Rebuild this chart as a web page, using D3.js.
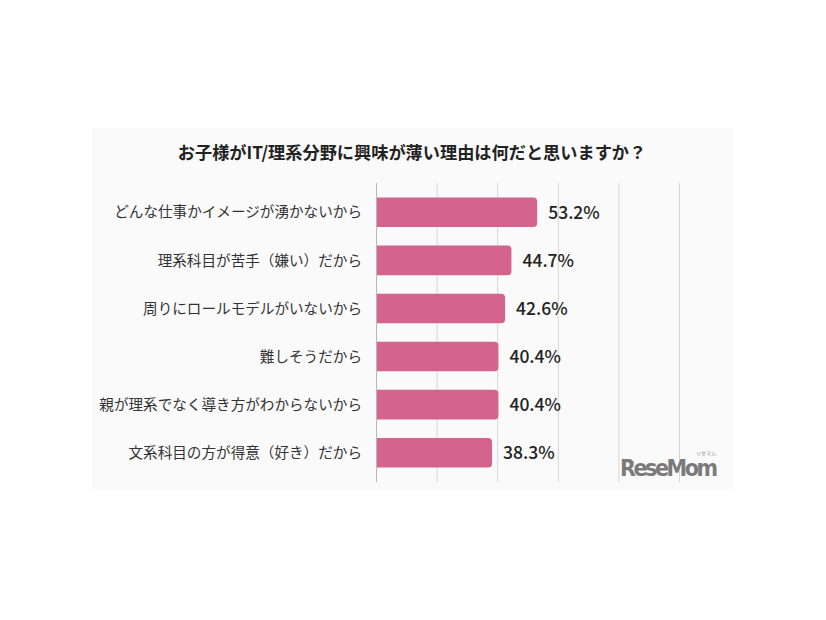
<!DOCTYPE html>
<html><head><meta charset="utf-8">
<script src="https://cdn.jsdelivr.net/npm/d3@7"></script>
<style>html,body{margin:0;padding:0;background:#fff;}svg{display:block;}</style>
</head><body>
<svg id="c" width="826" height="620"></svg>
<script>
const title = "お子様がIT/理系分野に興味が薄い理由は何だと思いますか？";
const categories = [
  "どんな仕事かイメージが湧かないから",
  "理系科目が苦手（嫌い）だから",
  "周りにロールモデルがいないから",
  "難しそうだから",
  "親が理系でなく導き方がわからないから",
  "文系科目の方が得意（好き）だから"
];
const values = [53.2, 44.7, 42.6, 40.4, 40.4, 38.3];
const gridTicks = [0, 20, 40, 60, 80, 100];

const svg = d3.select("#c");
const JP = "'Noto Sans CJK JP','Noto Sans',sans-serif";

// panel background
svg.append("rect").attr("x", 92).attr("y", 128).attr("width", 641).attr("height", 362).attr("fill", "#fafafa");

const x = d3.scaleLinear().domain([0, 100]).range([376, 679]);
const y = d3.scaleBand().domain(categories).range([183, 482]).paddingInner(0.385).paddingOuter(0.3);

// title
svg.append("text").attr("x", 412).attr("y", 159).attr("text-anchor", "middle")
  .attr("font-family", JP).attr("font-weight", 700).attr("font-size", 17.2).attr("fill", "#222").text(title);

// gridlines
svg.append("g").selectAll("line").data(gridTicks).join("line")
  .attr("x1", d => x(d) + 0.5).attr("x2", d => x(d) + 0.5)
  .attr("y1", y.range()[0]).attr("y2", y.range()[1])
  .attr("stroke", d => d === 0 ? "#b8b8b8" : "#d6d6d6").attr("stroke-width", 1);

// bars with rounded right corners
const r = 4;
svg.append("g").selectAll("path").data(values).join("path")
  .attr("fill", "#d4648b")
  .attr("d", (v, i) => {
    const x0 = x(0) + 1, x1 = x(v), y0 = y(categories[i]), h = y.bandwidth();
    return `M${x0},${y0}H${x1 - r}Q${x1},${y0} ${x1},${y0 + r}V${y0 + h - r}Q${x1},${y0 + h} ${x1 - r},${y0 + h}H${x0}Z`;
  });

// value labels
svg.append("g").selectAll("text").data(values).join("text")
  .attr("x", v => x(v) + 11).attr("y", (v, i) => y(categories[i]) + y.bandwidth() / 2)
  .attr("dy", "0.36em").attr("font-family", JP).attr("font-weight", 500).attr("font-size", 17.5)
  .attr("fill", "#222").text(v => v.toFixed(1) + "%");

// category labels
svg.append("g").selectAll("text").data(categories).join("text")
  .attr("x", 362).attr("y", d => y(d) + y.bandwidth() / 2).attr("dy", "0.36em")
  .attr("text-anchor", "end").attr("font-family", JP).attr("font-size", 14.6).attr("fill", "#333").text(d => d);

// watermark
svg.append("text").attr("x", 620).attr("y", 476).attr("font-family", "'DejaVu Sans Condensed','DejaVu Sans',sans-serif")
  .attr("font-weight", 700).attr("font-size", 23).attr("fill", "#7a7a7a").attr("textLength", 98).text("ReseMom");
svg.append("text").attr("x", 706).attr("y", 455).attr("text-anchor", "middle").attr("font-family", JP)
  .attr("font-size", 5).attr("fill", "#888").text("リセマム");
</script>
</body></html>
